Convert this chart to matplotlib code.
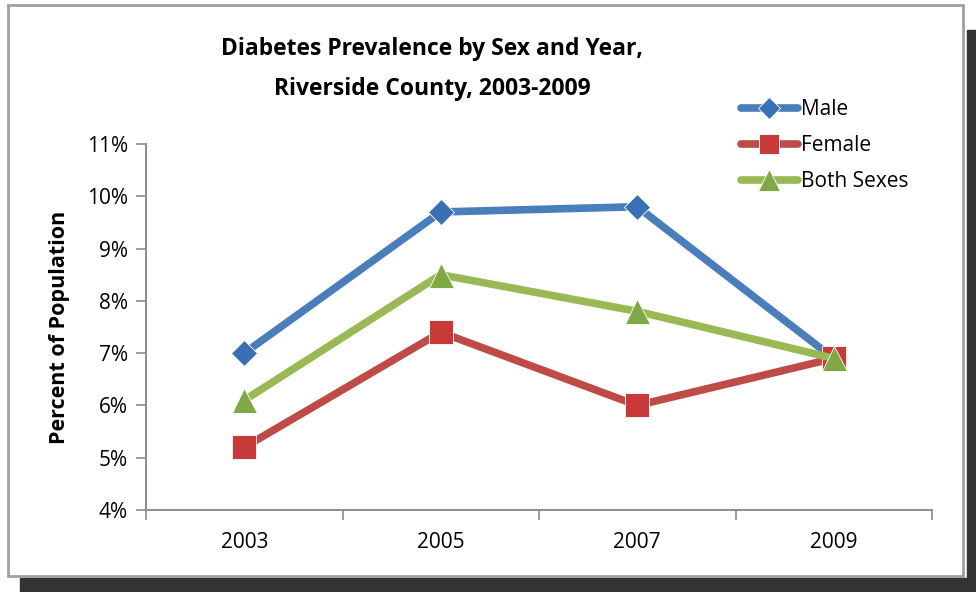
import matplotlib
matplotlib.use("Agg")
import matplotlib.pyplot as plt
from matplotlib.patches import Rectangle
from matplotlib.ticker import FuncFormatter, MultipleLocator

years = ["2003", "2005", "2007", "2009"]
male = [7.0, 9.7, 9.8, 6.9]
female = [5.2, 7.4, 6.0, 6.9]
both_sexes = [6.1, 8.5, 7.8, 6.9]
series_names = ["Male", "Female", "Both Sexes"]

plt.rcParams["font.family"] = ["Open Sans", "DejaVu Sans"]

W, H = 976, 592
fig = plt.figure(figsize=(W / 100, H / 100), dpi=100)
fig.patch.set_facecolor("white")

# drop shadow and framed chart area
fig.patches.append(Rectangle((20 / W, 0), (W - 20) / W, 1 - 578 / H,
                             transform=fig.transFigure, color="#333333", zorder=0))
fig.patches.append(Rectangle((967 / W, 0), 9 / W, 1 - 30 / H,
                             transform=fig.transFigure, color="#333333", zorder=0))
fig.patches.append(Rectangle((8 / W, 1 - 576 / H), 955 / W, 571 / H,
                             transform=fig.transFigure, facecolor="white",
                             edgecolor="#a0a0a0", linewidth=2, zorder=1))

ax = fig.add_axes([146 / W, 1 - 510 / H, (932 - 146) / W, (510 - 144) / H])
ax.set_facecolor("none")
ax.set_zorder(3)

x = list(range(len(years)))
styles = [
    (male, "#4A7EBB", "D", 13, "#3A6FB5"),
    (female, "#BE4B48", "s", 17, "#C8393A"),
    (both_sexes, "#98B954", "^", 18, "#7FA944"),
]
handles = []
for vals, col, mk, ms, mcol in styles:
    h, = ax.plot(x, vals, color=col, linewidth=5.5, marker=mk, markersize=ms,
                 markerfacecolor=mcol, markeredgecolor="#ffffff",
                 markeredgewidth=0.6, solid_capstyle="round")
    handles.append(h)

ax.set_xlim(-0.5, 3.5)
ax.set_ylim(4, 11)
ax.yaxis.set_major_locator(MultipleLocator(1))
ax.yaxis.set_major_formatter(FuncFormatter(lambda v, p: f"{v:.0f}%"))
ax.set_xticks(x)
ax.set_xticklabels(years)
ax.set_xticks([-0.5, 0.5, 1.5, 2.5, 3.5], minor=True)
ax.tick_params(axis="x", which="major", length=0, pad=16, labelsize=15)
ax.tick_params(axis="x", which="minor", length=7, color="#8c8c8c", width=1.2)
ax.tick_params(axis="y", length=7, color="#8c8c8c", width=1.2, labelsize=15, pad=6)

for side in ["top", "right"]:
    ax.spines[side].set_visible(False)
for side in ["left", "bottom"]:
    ax.spines[side].set_color("#8c8c8c")
    ax.spines[side].set_linewidth(1.4)

ax.set_ylabel("Percent of Population", fontsize=15.5, fontweight="bold", labelpad=12)

fig.text(432 / W, 1 - 49 / H, "Diabetes Prevalence by Sex and Year,",
         ha="center", va="center", fontsize=16.5, fontweight="bold")
fig.text(432 / W, 1 - 89 / H, "Riverside County, 2003-2009",
         ha="center", va="center", fontsize=16.5, fontweight="bold")

leg = fig.legend(handles, series_names, loc="upper left",
                 bbox_to_anchor=(733 / W, 1 - 91 / H), frameon=False,
                 fontsize=15, handlelength=2.7, handletextpad=0.15,
                 labelspacing=0.72, borderaxespad=0)
for lh in leg.legend_handles:
    lh.set_markersize(lh.get_markersize() * 0.85)

fig.savefig("out.png", dpi=100)
